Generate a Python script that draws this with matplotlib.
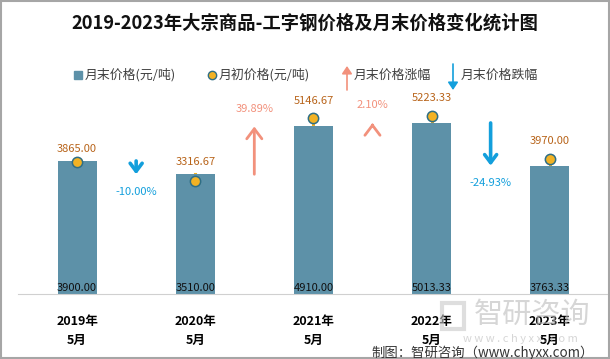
import matplotlib
matplotlib.use("Agg")
import matplotlib.pyplot as plt
from matplotlib.patches import FancyArrowPatch, Rectangle
from matplotlib.lines import Line2D

plt.rcParams['font.family'] = ['Noto Sans CJK SC', 'DejaVu Sans']

categories = ["2019年\n5月", "2020年\n5月", "2021年\n5月", "2022年\n5月", "2023年\n5月"]
end_price = [3900.00, 3510.00, 4910.00, 5013.33, 3763.33]
start_price = [3865.00, 3316.67, 5146.67, 5223.33, 3970.00]
change_pct = [-10.00, 39.89, 2.10, -24.93]

BAR = "#5D91A8"
DOT = "#F2B224"
DOT_EDGE = "#2F6E85"
UP = "#F2917C"
DOWN = "#139FDC"
LBL = "#B8641A"

fig = plt.figure(figsize=(6.10, 3.59), dpi=100)
ax = fig.add_axes([0.0295, 0.181, 0.9685, 0.652])

x = list(range(len(categories)))
# stems
for i in x:
    ax.plot([i, i], [end_price[i], start_price[i]], color=DOT, lw=2.2, zorder=1)
ax.bar(x, end_price, width=0.33, color=BAR, zorder=2)
ax.scatter(x, start_price, s=55, color=DOT, edgecolors=DOT_EDGE, linewidths=1.1, zorder=4)

for i in x:
    ax.annotate(f"{end_price[i]:.2f}", (i, 0), xytext=(0, 1), textcoords="offset points",
                ha="center", va="bottom", fontsize=8, color="#111111", zorder=5)
    top = max(end_price[i], start_price[i])
    off = 9 if start_price[i] >= end_price[i] else 5
    ax.annotate(f"{start_price[i]:.2f}", (i, top), xytext=(0, off), textcoords="offset points",
                ha="center", va="bottom", fontsize=8, color=LBL, zorder=5)

for k, pct in enumerate(change_pct):
    xm = k + 0.5
    y0, y1 = end_price[k], end_price[k + 1]
    if pct >= 0:
        col = UP
        arr = FancyArrowPatch((xm, y0), (xm, y1), arrowstyle="->,head_length=4.5,head_width=3.4",
                              color=col, lw=2.0, shrinkA=0, shrinkB=0, mutation_scale=1.6, zorder=3)
        ax.add_patch(arr)
        ax.annotate(f"{pct:.2f}%", (xm, max(y0, y1)), xytext=(0, 9), textcoords="offset points",
                    ha="center", va="bottom", fontsize=8, color=col)
    else:
        col = DOWN
        arr = FancyArrowPatch((xm, y0), (xm, y1), arrowstyle="->,head_length=3.6,head_width=2.7",
                              color=col, lw=2.6, shrinkA=0, shrinkB=0, mutation_scale=1.6, zorder=3)
        ax.add_patch(arr)
        ax.annotate(f"{pct:.2f}%", (xm, min(y0, y1)), xytext=(0, -9), textcoords="offset points",
                    ha="center", va="top", fontsize=8, color=col)

ax.set_xlim(-0.5, 4.5)
ax.set_ylim(0, 6860)
ax.set_xticks(x)
ax.set_xticklabels(categories, fontsize=9, fontweight="bold", linespacing=1.6)
ax.tick_params(axis="x", length=0, pad=15)
ax.set_yticks([])
for s in ["top", "right", "left"]:
    ax.spines[s].set_visible(False)
ax.spines["bottom"].set_color("#D0D0D0")
ax.patch.set_alpha(0)

# title
fig.text(0.5, 0.936, "2019-2023年大宗商品-工字钢价格及月末价格变化统计图", ha="center", va="center",
         fontsize=13.2, fontweight="bold", color="#111111")

# legend (manual)
ly = 1 - 75 / 359
lc = "#404040"
lfs = 9.3
fig.add_artist(Line2D([78 / 610], [ly], marker="s", markersize=6, color=BAR, linestyle="none"))
fig.text(85 / 610, ly, "月末价格(元/吨)", fontsize=lfs, va="center", color=lc)
fig.add_artist(Line2D([212 / 610], [ly], marker="o", markersize=6, markerfacecolor=DOT,
                      markeredgecolor=DOT_EDGE, markeredgewidth=1, linestyle="none"))
fig.text(219 / 610, ly, "月初价格(元/吨)", fontsize=lfs, va="center", color=lc)
fig.add_artist(FancyArrowPatch((347 / 610, 1 - 90 / 359), (347 / 610, 1 - 66 / 359),
                               transform=fig.transFigure, arrowstyle="-|>,head_length=3,head_width=2",
                               color=UP, lw=1.2, shrinkA=0, shrinkB=0, mutation_scale=1.5))
fig.text(354 / 610, ly, "月末价格涨幅", fontsize=lfs, va="center", color=lc)
fig.add_artist(FancyArrowPatch((453 / 610, 1 - 64 / 359), (453 / 610, 1 - 90 / 359),
                               transform=fig.transFigure, arrowstyle="-|>,head_length=3,head_width=2",
                               color=DOWN, lw=1.2, shrinkA=0, shrinkB=0, mutation_scale=1.5))
fig.text(461 / 610, ly, "月末价格跌幅", fontsize=lfs, va="center", color=lc)

# watermark
fig.text(532 / 610, 1 - 315 / 359, "智研咨询", ha="center", va="center", fontsize=21,
         color="#BBBBBB", alpha=0.6)
fig.text(520 / 610, 1 - 339 / 359, "w w w . c h y x x . c o m", ha="center", va="center",
         fontsize=8, color="#BBBBBB", alpha=0.6)
fig.add_artist(Rectangle((442 / 610, 1 - 329 / 359), 22 / 610, 26 / 359, transform=fig.transFigure,
                         facecolor="none", edgecolor="#C8C8C8", lw=3, alpha=0.6))

# source
fig.text(594 / 610, 1 - 353 / 359, "制图：智研咨询（www.chyxx.com）", ha="right", va="center",
         fontsize=9.6, color="#333333")

# border
fig.add_artist(Rectangle((0.001, 0.002), 0.997, 0.995, transform=fig.transFigure,
                         facecolor="none", edgecolor="#A6A6A6", lw=1.5))

fig.savefig("out.png", dpi=100)
